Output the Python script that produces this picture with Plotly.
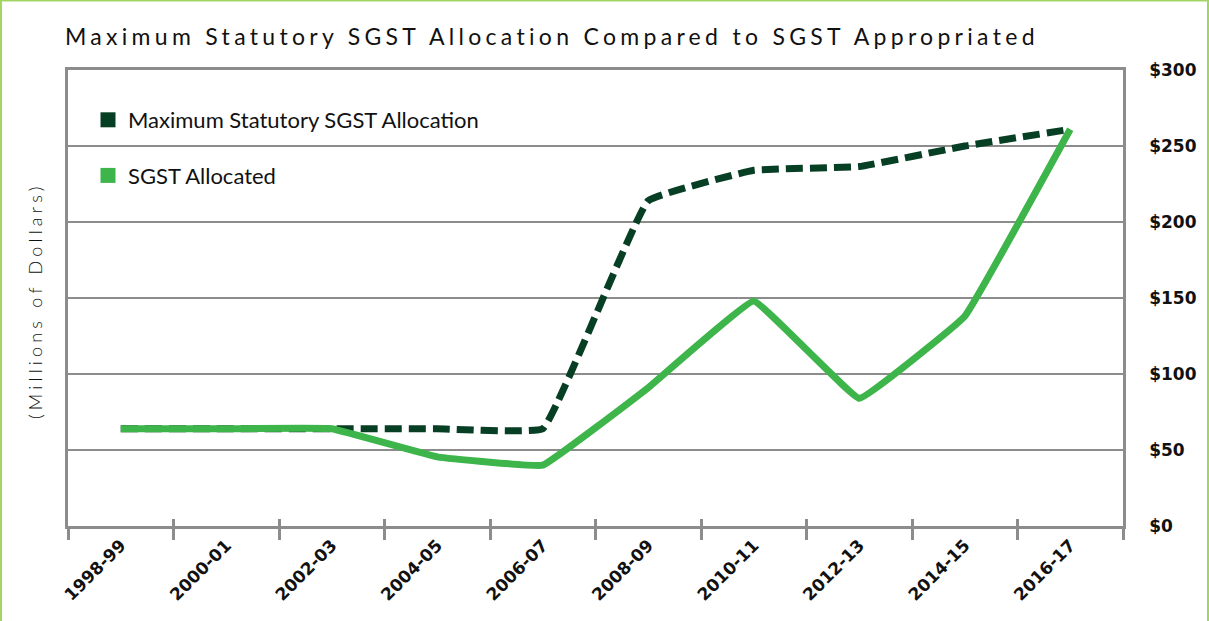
import plotly.graph_objects as go

years = ["1998-99", "2000-01", "2002-03", "2004-05", "2006-07",
         "2008-09", "2010-11", "2012-13", "2014-15", "2016-17"]
max_statutory = [64, 64, 64, 64, 64, 214, 234, 236.5, 250, 261]
sgst_allocated = [64, 64, 64, 45.5, 40, 91, 148, 84, 138, 261]
y_ticks = [0, 50, 100, 150, 200, 250, 300]

name_max = "Maximum Statutory SGST Allocation"
name_alloc = "SGST Allocated"
title_text = "Maximum Statutory SGST Allocation Compared to SGST Appropriated"
ylabel_text = "(Millions of Dollars)"

DARK = "#073f24"
GREEN = "#3db54a"
GRAY = "#8c8c8c"
BORDER = "#a3d565"

W, H = 1209, 621
ML, MR, MT, MB = 68, 86, 70, 95
PW, PH = W - ML - MR, H - MT - MB

fig = go.Figure()

fig.add_trace(go.Scatter(
    x=years, y=max_statutory, mode="lines", showlegend=False,
    line=dict(color=DARK, width=7, dash="17px,7px", shape="spline", smoothing=0.25),
    hoverinfo="skip"))
fig.add_trace(go.Scatter(
    x=years, y=sgst_allocated, mode="lines", showlegend=False,
    line=dict(color=GREEN, width=7, shape="spline", smoothing=0.2),
    hoverinfo="skip"))

# legend entries (square swatches)
fig.add_trace(go.Scatter(
    x=[None], y=[None], mode="markers", name=name_max, legendgroup="a",
    marker=dict(symbol="square", size=15, color=DARK)))
fig.add_trace(go.Scatter(
    x=[None], y=[None], mode="markers", name=name_alloc, legendgroup="b",
    marker=dict(symbol="square", size=15, color=GREEN)))

# helper on overlay axis for inside tick marks
fig.add_trace(go.Scatter(
    x=years, y=[None] * len(years), xaxis="x2", mode="lines",
    showlegend=False, hoverinfo="skip"))

fig.update_layout(
    width=W, height=H,
    margin=dict(l=ML, r=MR, t=MT, b=MB),
    paper_bgcolor="white", plot_bgcolor="white",
    title=dict(
        text='<span style="letter-spacing:4.3px">' + title_text + '</span>',
        x=65 / W, xanchor="left", y=1 - 37 / H, yanchor="middle",
        font=dict(family="Lato", size=23, color="#111111")),
    legend=dict(
        x=(88 - ML) / PW, xanchor="left",
        y=(H - MB - 99) / PH, yanchor="top",
        font=dict(family="Lato", size=22, color="#111111"),
        bgcolor="rgba(0,0,0,0)", traceorder="grouped", tracegroupgap=24,
        itemsizing="trace"),
    xaxis=dict(
        type="category", categoryarray=years, categoryorder="array",
        range=[-0.5, len(years) - 0.5],
        tickson="boundaries", ticks="outside", ticklen=11, tickwidth=2.5,
        tickcolor=GRAY, showline=True, linecolor=GRAY, linewidth=2.5,
        mirror=True, showgrid=False, zeroline=False, tickangle=-45,
        tickfont=dict(family="DejaVu Sans", size=17, color="#111111", weight="bold"),
    ),
    xaxis2=dict(
        type="category", categoryarray=years, categoryorder="array",
        range=[-0.5, len(years) - 0.5], overlaying="x", anchor="y", side="bottom",
        tickson="boundaries", ticks="inside", ticklen=7, tickwidth=2.5,
        tickcolor=GRAY, showticklabels=False, showline=False, showgrid=False,
        zeroline=False),
    yaxis=dict(
        side="right", range=[0, 300], tickvals=y_ticks,
        ticktext=["$" + str(v) for v in y_ticks],
        showgrid=True, gridcolor=GRAY, gridwidth=2,
        showline=True, linecolor=GRAY, linewidth=2.5, mirror=True,
        zeroline=False, ticks="", ticklabelstandoff=20,
        tickfont=dict(family="DejaVu Sans", size=17, color="#111111", weight="bold"),
    ),
    annotations=[dict(
        text='<span style="letter-spacing:4.2px">' + ylabel_text + '</span>',
        xref="paper", yref="paper", x=(35 - ML) / PW, y=(H - MB - 301) / PH,
        xanchor="center", yanchor="middle", showarrow=False, textangle=-90,
        font=dict(family="Lato", size=18, color="#111111", weight=300))],
    shapes=[
        dict(type="line", xref="paper", yref="paper",
             x0=(1 - ML) / PW, x1=(1 - ML) / PW,
             y0=(H - MB - H) / PH, y1=(H - MB) / PH,
             line=dict(color=BORDER, width=2)),
        dict(type="line", xref="paper", yref="paper",
             x0=(1 - ML) / PW, x1=(W - 1 - ML) / PW,
             y0=(H - MB - 0.5) / PH, y1=(H - MB - 0.5) / PH,
             line=dict(color=BORDER, width=2)),
        dict(type="line", xref="paper", yref="paper",
             x0=(W - 1 - ML) / PW, x1=(W - 1 - ML) / PW,
             y0=(H - MB - H) / PH, y1=(H - MB) / PH,
             line=dict(color=BORDER, width=2)),
    ],
)

fig.write_html("out.html", config={"displayModeBar": False},
               post_script="document.body.style.margin='0';")
